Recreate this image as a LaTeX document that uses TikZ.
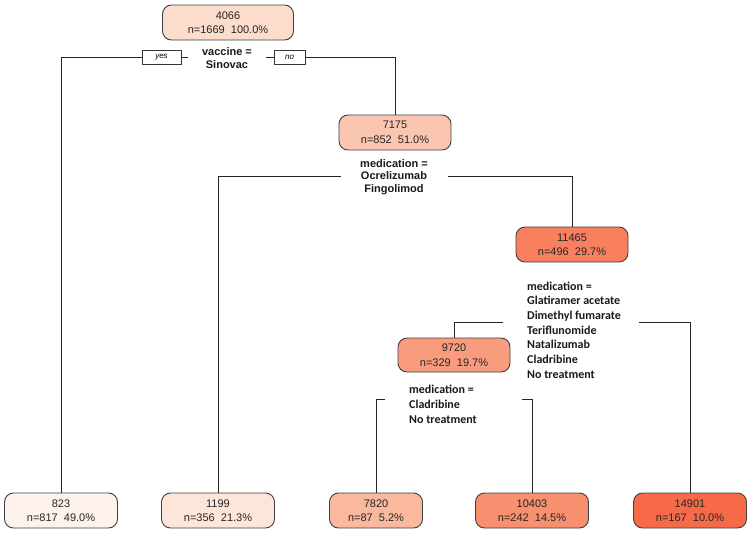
\documentclass[tikz,border=0pt]{standalone}
\usepackage{fontspec}
\setmainfont{Liberation Sans}
\newfontfamily\carl{Carlito}
\definecolor{cRoot}{HTML}{FCDCCB}
\definecolor{cA}{HTML}{FBC6B0}
\definecolor{cB}{HTML}{F8805F}
\definecolor{cC}{HTML}{F99C7E}
\definecolor{cL1}{HTML}{FEF2EC}
\definecolor{cL2}{HTML}{FDE5D9}
\definecolor{cL3}{HTML}{FAB89E}
\definecolor{cL4}{HTML}{F88F6E}
\definecolor{cL5}{HTML}{F66A48}
\begin{document}
\begin{tikzpicture}[x=1pt,y=-1pt,
 box/.style={draw=black!75, line width=0.9pt, rounded corners=9pt, minimum height=35pt, minimum width=112pt, inner sep=0pt, align=center, text=black!85, font=\fontsize{11}{14.5}\selectfont},
 yn/.style={draw=black!80, line width=0.7pt, minimum height=14pt, inner sep=0pt, font=\itshape\fontsize{8}{9}\selectfont},
 splitA/.style={font=\bfseries\fontsize{11}{12.5}\selectfont, align=center, inner sep=0pt, text=black!90},
 splitB/.style={font=\carl\bfseries\fontsize{12}{14.7}\selectfont, align=left, inner sep=0pt, anchor=north west, text=black!90},
 conn/.style={draw=black!85, line width=1pt}]
\useasboundingbox (0,0) rectangle (750,533);
\fill[white] (0,0) rectangle (750,533);
% inner nodes
\node[box, minimum width=131pt, fill=cRoot] (root) at (228,22.5) {4066\\n=1669~~100.0\%};
\node[box, fill=cA] (n7175) at (395,132.5) {7175\\n=852~~51.0\%};
\node[box, fill=cB] (n11465) at (572,244.5) {11465\\n=496~~29.7\%};
\node[box, minimum height=34pt, fill=cC] (n9720) at (454,355) {9720\\n=329~~19.7\%};
% leaves
\node[box, minimum width=113pt, fill=cL1] (l823) at (61,510.5) {823\\n=817~~49.0\%};
\node[box, minimum width=113pt, fill=cL2] (l1199) at (218,510.5) {1199\\n=356~~21.3\%};
\node[box, minimum width=93pt, fill=cL3] (l7820) at (376,510.5) {7820\\n=87~~5.2\%};
\node[box, minimum width=113pt, fill=cL4] (l10403) at (532,510.5) {10403\\n=242~~14.5\%};
\node[box, minimum width=113pt, fill=cL5] (l14901) at (690,510.5) {14901\\n=167~~10.0\%};
% split labels
\node[splitA] (s1) at (227,58) {vaccine =\\Sinovac};
\node[yn, minimum width=39pt] (yes) at (161.5,57) {yes};
\node[yn, minimum width=31pt] (no) at (289.5,57) {no};
\coordinate (s1L) at (188,57);
\coordinate (s1R) at (266,57);
\node[splitA] (s2) at (394,177) {medication =\\Ocrelizumab\\Fingolimod};
\coordinate (s2L) at (341,176);
\coordinate (s2R) at (448,176);
\node[splitB] (s3) at (527,281.5) {medication =\\Glatiramer acetate\\Dimethyl fumarate\\Teriflunomide\\Natalizumab\\Cladribine\\No treatment};
\coordinate (s3L) at (503,322);
\coordinate (s3R) at (639,322);
\node[splitB] (s4) at (409,385) {medication =\\Cladribine\\No treatment};
\coordinate (s4L) at (385,399);
\coordinate (s4R) at (522,399);
% connectors
\draw[conn] (yes.west) -| (l823.north);
\draw[conn] (yes.east) -- (s1L);
\draw[conn] (s1R) -- (no.west);
\draw[conn] (no.east) -| (n7175.north);
\draw[conn] (s2L) -| (l1199.north);
\draw[conn] (s2R) -| (n11465.north);
\draw[conn] (s3L) -| (n9720.north);
\draw[conn] (s3R) -| (l14901.north);
\draw[conn] (s4L) -| (l7820.north);
\draw[conn] (s4R) -| (l10403.north);
\end{tikzpicture}
\end{document}
